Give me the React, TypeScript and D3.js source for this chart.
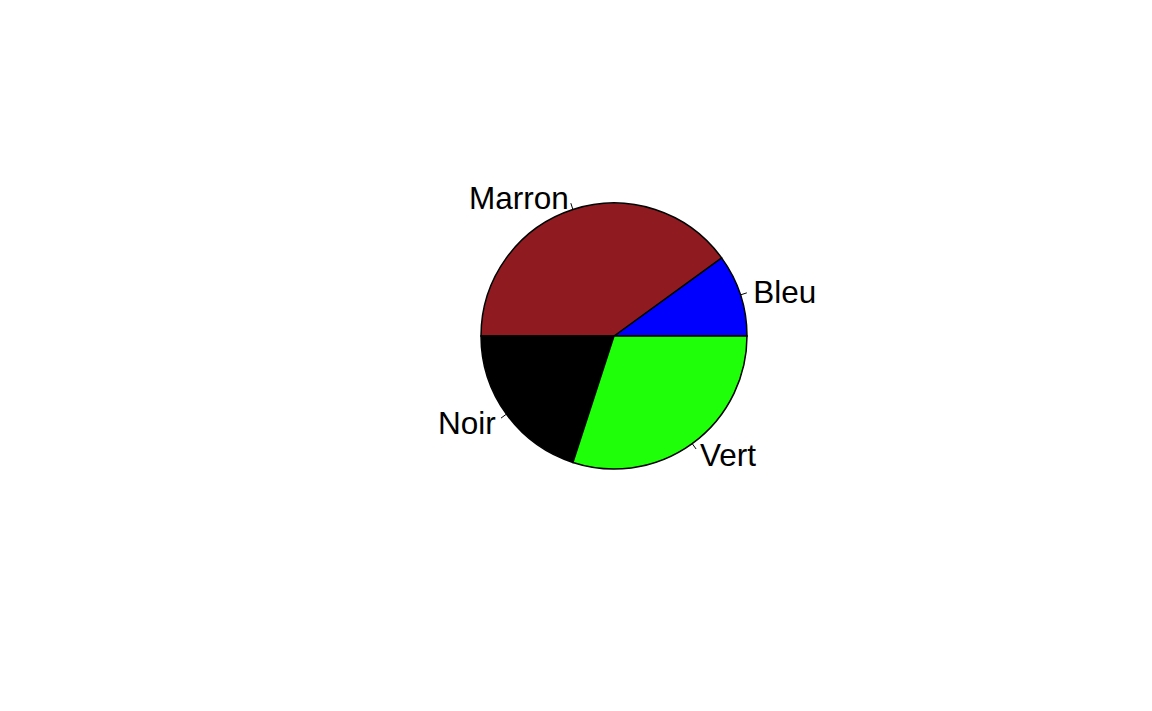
import React from 'react';
import * as d3 from 'd3';

const labels = ['Bleu', 'Marron', 'Noir', 'Vert'];
const values = [10, 40, 20, 30];
const colors = ['#0000FF', '#8F1B21', '#000000', '#1FFF0A'];

const W = 1152;
const H = 711;
const cx = 614;
const cy = 336;
const r = 133;

export default function App() {
  const total = d3.sum(values);
  // R pie: counter-clockwise from 3 o'clock
  const angle = d3.scaleLinear().domain([0, total]).range([0, 2 * Math.PI]);
  const cum = d3.cumsum(values);
  const slices = values.map((v, i) => {
    const a0 = angle(cum[i] - v);
    const a1 = angle(cum[i]);
    return { label: labels[i], color: colors[i], a0, a1, mid: (a0 + a1) / 2 };
  });
  // d3.arc uses clockwise-from-12; convert
  const toD3 = (a: number) => Math.PI / 2 - a;
  const arc = d3.arc<any>().innerRadius(0).outerRadius(r);

  return (
    <svg width={W} height={H} style={{ position: 'absolute', left: 0, top: 0, background: '#fff' }}>
      <g transform={`translate(${cx},${cy})`}>
        {slices.map((s) => (
          <path
            key={s.label}
            d={arc({ startAngle: toD3(s.a1), endAngle: toD3(s.a0) }) as string}
            fill={s.color}
            stroke="#000"
            strokeWidth={1.5}
          />
        ))}
        {slices.map((s) => {
          const c = Math.cos(s.mid);
          const sn = -Math.sin(s.mid);
          return (
            <g key={s.label + '-lab'}>
              <line x1={r * c} y1={r * sn} x2={1.05 * r * c} y2={1.05 * r * sn} stroke="#000" strokeWidth={1} />
              <text
                x={1.1 * r * c}
                y={1.1 * r * sn + 1}
                textAnchor={c > 0 ? 'start' : 'end'}
                dominantBaseline="central"
                fontFamily="'Liberation Sans', Arial, sans-serif"
                fontSize={31.5}
                fill="#000"
              >
                {s.label}
              </text>
            </g>
          );
        })}
      </g>
    </svg>
  );
}
